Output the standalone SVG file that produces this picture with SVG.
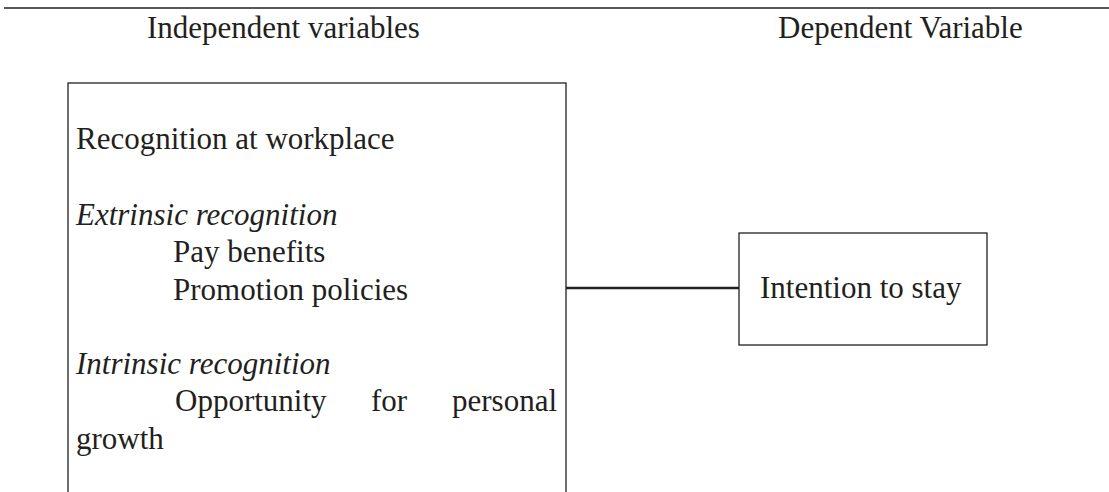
<svg xmlns="http://www.w3.org/2000/svg" width="1109" height="492" viewBox="0 0 1109 492">
<style>
text{font-family:"Liberation Serif","Times New Roman",serif;font-size:31px;fill:#231f20}
.it{font-style:italic}
.box{fill:none;stroke:#231f20;stroke-width:1.3}
.rule{stroke:#231f20;stroke-width:1.6}
.conn{stroke:#231f20;stroke-width:2.6;fill:none}
</style>
<rect width="1109" height="492" fill="#fff"/>
<line class="rule" x1="4" y1="8" x2="1109" y2="8"/>
<g id="header">
<text x="147" y="38">Independent variables</text>
<text x="778" y="38">Dependent Variable</text>
</g>
<g id="node-independent">
<rect class="box" x="68" y="83" width="498" height="430"/>
<text x="76" y="149">Recognition at workplace</text>
<text class="it" x="76" y="225">Extrinsic recognition</text>
<text x="173" y="262">Pay benefits</text>
<text x="173" y="300">Promotion policies</text>
<text class="it" x="76" y="374">Intrinsic recognition</text>
<text y="411"><tspan x="175">Opportunity</tspan><tspan x="371">for</tspan><tspan x="452">personal</tspan></text>
<text x="76" y="449">growth</text>
</g>
<g id="node-dependent">
<rect class="box" x="739" y="233" width="248" height="112"/>
<text x="760" y="298">Intention to stay</text>
</g>
<g id="connectors">
<line class="conn" x1="566" y1="288" x2="739" y2="288"/>
</g>
</svg>
